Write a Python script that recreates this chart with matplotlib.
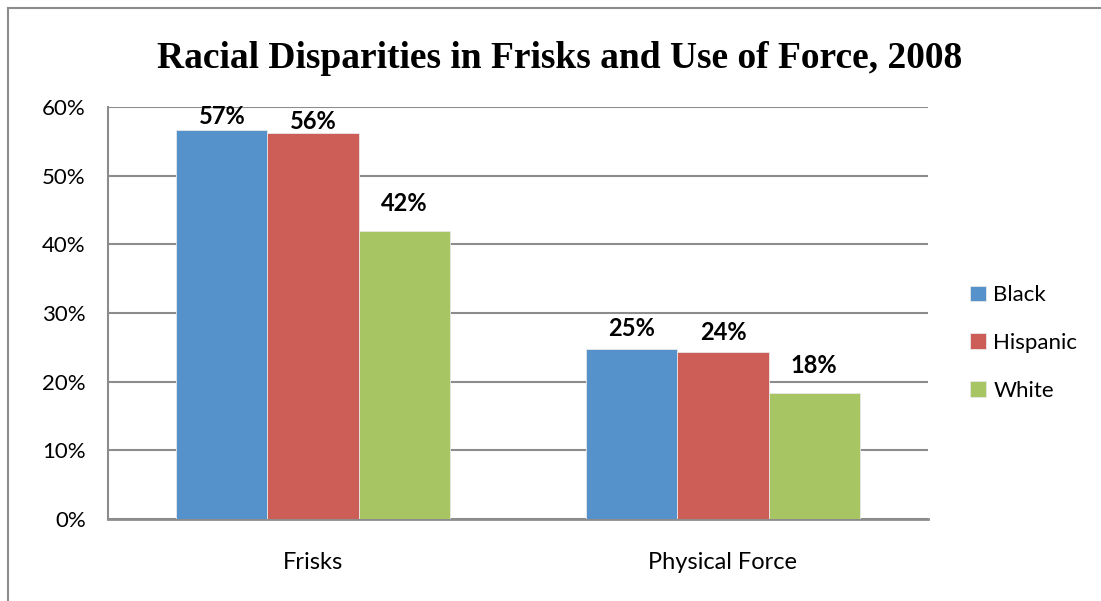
import matplotlib
matplotlib.use("Agg")
import matplotlib.pyplot as plt
from matplotlib.lines import Line2D
import numpy as np

categories = ["Frisks", "Physical Force"]
series_names = ["Black", "Hispanic", "White"]
black = [56.7, 24.8]
hispanic = [56.2, 24.3]
white = [41.9, 18.3]
labels_black = ["57%", "25%"]
labels_hispanic = ["56%", "24%"]
labels_white = ["42%", "18%"]
yticks = [0, 10, 20, 30, 40, 50, 60]
ytick_labels = ["0%", "10%", "20%", "30%", "40%", "50%", "60%"]

colors = ["#5591CA", "#CD5E57", "#A8C563"]
sans = ["Lato", "DejaVu Sans"]
# label gap above bar (points), per series / per category
label_pads = [[1, 6], [0, 6], [12, 12]]

W, H = 1101, 601
fig = plt.figure(figsize=(W / 100, H / 100), dpi=100)
ax = fig.add_axes([108 / W, 1 - 519 / H, (928 - 108) / W, (519 - 107) / H])

x = np.arange(len(categories))
bw = 0.222
values = [black, hispanic, white]
labels = [labels_black, labels_hispanic, labels_white]
for i, (vals, labs, c, name, pads) in enumerate(zip(values, labels, colors, series_names, label_pads)):
    bars = ax.bar(x + (i - 1) * bw, vals, bw, color=c, label=name,
                  edgecolor="#e8e8e8", linewidth=0.6, zorder=3)
    for rect, lab, p in zip(bars, labs, pads):
        ax.annotate(lab, (rect.get_x() + rect.get_width() / 2, rect.get_height()),
                    xytext=(0, p), textcoords="offset points", ha="center", va="bottom",
                    fontsize=17, fontweight="bold", family=sans, color="black",
                    annotation_clip=False)

ax.set_xlim(-0.5, 1.5)
ax.set_ylim(0, 60)
ax.set_yticks(yticks)
ax.set_yticklabels(ytick_labels, family=sans, fontsize=16)
ax.set_xticks(x)
ax.set_xticklabels(categories, family=sans, fontsize=17)
ax.tick_params(axis="x", length=0, pad=24)
ax.tick_params(axis="y", length=0, pad=16)
ax.grid(axis="y", color="#8c8c8c", linewidth=1.5, zorder=0)
for s in ["top", "right"]:
    ax.spines[s].set_visible(False)
ax.spines["left"].set_color("#8c8c8c")
ax.spines["left"].set_linewidth(1.5)
ax.spines["bottom"].set_color("#8c8c8c")
ax.spines["bottom"].set_linewidth(2)

leg = fig.legend(loc="center left", bbox_to_anchor=(950 / W, 1 - 343 / H),
                 frameon=False, prop={"family": sans, "size": 16},
                 handlelength=0.7, handleheight=0.7, handletextpad=0.35,
                 labelspacing=1.25)

fig.text(0.508, 1 - 59 / H, "Racial Disparities in Frisks and Use of Force, 2008",
         ha="center", va="center", fontsize=27, fontweight="bold",
         family=["Liberation Serif", "DejaVu Serif"])

# outer chart border
fig.add_artist(Line2D([8 / W, 8 / W], [0, 1 - 8 / H], transform=fig.transFigure,
                      color="#8c8c8c", linewidth=1.5))
fig.add_artist(Line2D([8 / W, 1], [1 - 8 / H, 1 - 8 / H], transform=fig.transFigure,
                      color="#8c8c8c", linewidth=1.5))

fig.savefig("out.png", dpi=100)
